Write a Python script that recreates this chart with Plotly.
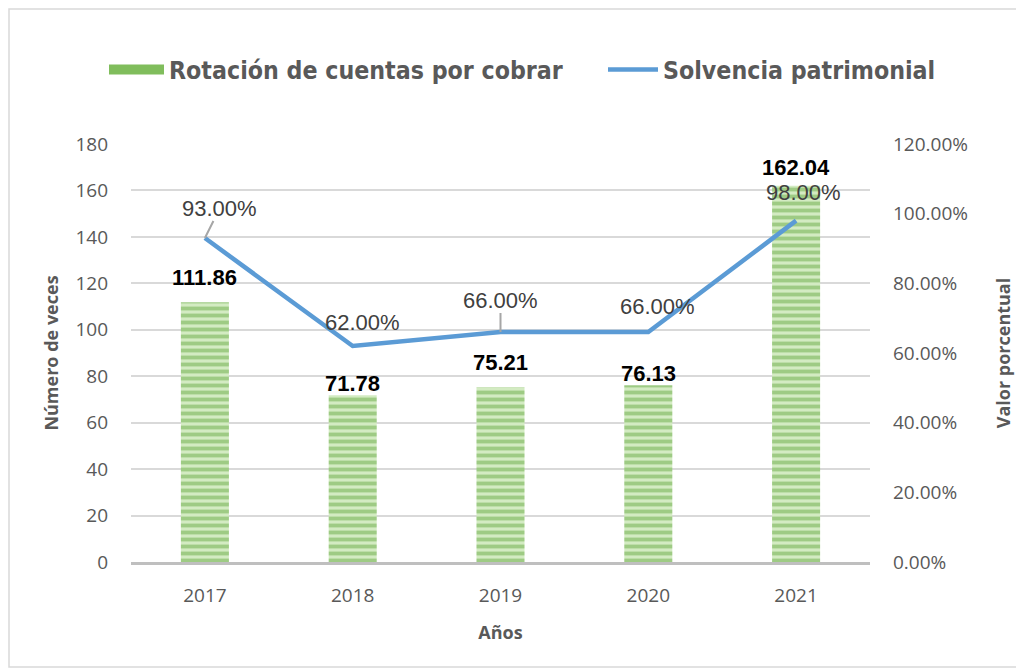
import plotly.graph_objects as go

years = [2017, 2018, 2019, 2020, 2021]
year_labels = ["2017", "2018", "2019", "2020", "2021"]
rotacion = [111.86, 71.78, 75.21, 76.13, 162.04]
solvencia = [0.93, 0.62, 0.66, 0.66, 0.98]
left_ticks = [0, 20, 40, 60, 80, 100, 120, 140, 160, 180]
right_ticks = [0, 0.2, 0.4, 0.6, 0.8, 1.0, 1.2]

# label offsets in pixels (styling only)
bar_label_shift = [25, 12, 25, 12, 18]
line_label_off = [(15, -30), (10, -24), (0, -32), (9, -26), (7, -28)]
line_label_arrow = [True, False, True, False, False]

GREEN_BG = "#d3ebc2"
GREEN_FG = "#6aab45"
BLUE = "#5b9bd5"
GRAY = "#595959"
TICK_FONT = dict(family="Open Sans, Liberation Sans", size=19, color=GRAY)
TITLE_FONT = dict(family="Open Sans, Liberation Sans", size=18, color=GRAY)
LEG_FONT = dict(family="DejaVu Sans Condensed, DejaVu Sans", size=24.7, color=GRAY, weight="bold")

W, H = 1016, 661
L, R, T, B = 123, 154, 136, 107
PW, PH = W - L - R, H - T - B

fig = go.Figure()
fig.add_trace(go.Bar(
    x=years, y=rotacion, name="Rotación de cuentas por cobrar", showlegend=False,
    width=0.325,
    marker=dict(color=GREEN_BG, line=dict(width=0),
                pattern=dict(shape="-", fgcolor=GREEN_FG, bgcolor=GREEN_BG,
                             size=7, solidity=0.55, fillmode="overlay")),
    yaxis="y",
))
# legend-only entry that mimics the wide striped bar swatch
fig.add_trace(go.Scatter(
    x=[None], y=[None], name="Rotación de cuentas por cobrar", mode="lines",
    line=dict(color="#80bd5c", width=10), legend="legend", showlegend=True,
))
fig.add_trace(go.Scatter(
    x=years, y=solvencia, name="Solvencia patrimonial", mode="lines",
    line=dict(color=BLUE, width=4.5), yaxis="y2", legend="legend2",
))

annotations = []
for i, (yr, v) in enumerate(zip(years, rotacion)):
    annotations.append(dict(x=yr, y=v, xref="x", yref="y", text=f"<b>{v:.2f}</b>",
                            showarrow=False, yanchor="middle", yshift=bar_label_shift[i],
                            font=dict(family="Liberation Sans, Arial", size=22, color="#000000")))
for i, (yr, v) in enumerate(zip(years, solvencia)):
    ax, ay = line_label_off[i]
    if line_label_arrow[i]:
        annotations.append(dict(x=yr, y=v, xref="x", yref="y2", text=f"{v*100:.2f}%",
                                showarrow=True, arrowhead=0, arrowcolor="#a6a6a6", arrowwidth=2,
                                ax=ax, ay=ay, standoff=0, borderpad=0,
                                font=dict(family="Liberation Sans, Arial", size=22, color="#404040")))
    else:
        annotations.append(dict(x=yr, y=v, xref="x", yref="y2", text=f"{v*100:.2f}%",
                                showarrow=False, xshift=ax, yshift=-ay,
                                font=dict(family="Liberation Sans, Arial", size=22, color="#404040")))

fig.update_layout(
    width=W, height=H,
    paper_bgcolor="white", plot_bgcolor="white",
    margin=dict(l=L, r=R, t=T, b=B, autoexpand=False),
    showlegend=True,
    legend=dict(orientation="h", x=(96 - L) / PW, xanchor="left", y=1 + (T - 62) / PH, yanchor="middle",
                font=LEG_FONT, itemwidth=55, bgcolor="rgba(0,0,0,0)"),
    legend2=dict(orientation="h", x=(595 - L) / PW, xanchor="left", y=1 + (T - 62) / PH, yanchor="middle",
                 font=LEG_FONT, itemwidth=50, bgcolor="rgba(0,0,0,0)"),
    xaxis=dict(range=[2016.5, 2021.5], tickvals=years, ticktext=year_labels,
               showgrid=False, zeroline=False, showline=True, linecolor="#bfbfbf", linewidth=3,
               tickfont=TICK_FONT, ticks="", ticklabelstandoff=14,
               title=dict(text="<b>Años</b>", standoff=20, font=TITLE_FONT)),
    yaxis=dict(range=[0, 180], tickvals=left_ticks, showgrid=True, gridcolor="#d9d9d9", gridwidth=1.5,
               zeroline=False, showline=False, ticks="", ticklabelstandoff=22,
               tickfont=TICK_FONT,
               title=dict(text="<b>Número de veces</b>", standoff=12, font=TITLE_FONT)),
    yaxis2=dict(range=[0, 1.2], tickvals=right_ticks, tickformat=".2%", overlaying="y", side="right",
                showgrid=False, zeroline=False, showline=False, ticks="",
                ticklabelstandoff=22, tickfont=TICK_FONT,
                title=dict(text="<b>Valor porcentual</b>", standoff=30, font=TITLE_FONT)),
    annotations=annotations,
    shapes=[dict(type="rect", xref="paper", yref="paper",
                 x0=(1 - L) / PW, x1=(1009 - L) / PW,
                 y0=-(659 - (H - B)) / PH, y1=1 + (T - 1) / PH,
                 line=dict(color="#d9d9d9", width=1.5), layer="below")],
)

fig.write_html("out.html")
